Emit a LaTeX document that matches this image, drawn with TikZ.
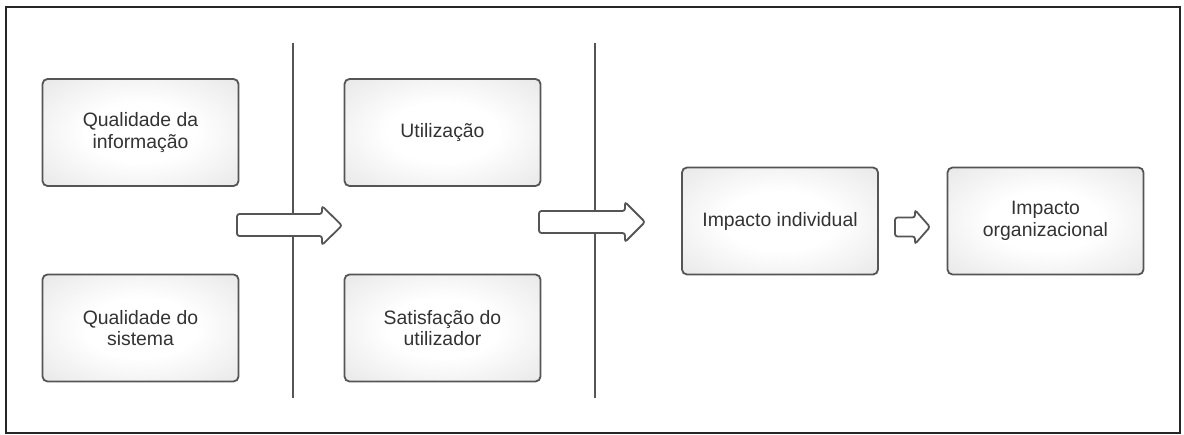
\documentclass[tikz,border=0pt]{standalone}
\usepackage{fontspec}
\setmainfont{Liberation Sans}
\pgfdeclareradialshading{boxshade}{\pgfpoint{0bp}{0bp}}{color(0bp)=(white); color(14bp)=(white); color(50bp)=(black!15); color(72bp)=(black!22)}
\begin{document}
\begin{tikzpicture}[x=1pt,y=-1pt,
  every node/.style={font=\fontsize{19.4}{21.7}\selectfont, text=txtgray},
  box/.style={rounded corners=5pt, draw=edgegray, line width=1.8pt,
    shading=boxshade,
    minimum width=196pt, minimum height=107pt, align=center, inner sep=0pt},
  blockarrow/.style={draw=edgegray, line width=1.8pt, fill=white, rounded corners=2.5pt},
  divider/.style={draw=edgegray, line width=1.8pt}]
\definecolor{edgegray}{HTML}{555555}
\definecolor{txtgray}{HTML}{333333}
\useasboundingbox (0,0) rectangle (1184,435);
\fill[white] (0,0) rectangle (1184,435);
\draw[line width=2pt, black!85] (6,7) rectangle (1180,433);
% dividers
\coordinate (d1t) at (293,43); \coordinate (d1b) at (293,398);
\coordinate (d2t) at (595,43); \coordinate (d2b) at (595,398);
\draw[divider] (d1t) -- (d1b);
\draw[divider] (d2t) -- (d2b);
% boxes
\node[box] (qi) at (140.5,132.5) {Qualidade da\\informação};
\node[box] (qs) at (140.5,328) {Qualidade do\\sistema};
\node[box] (ut) at (442.5,132.5) {Utilização};
\node[box] (su) at (442.5,328) {Satisfação do\\utilizador};
\node[box] (ii) at (780,221) {Impacto individual};
\node[box] (io) at (1045.5,221) {Impacto\\organizacional};
% block arrows
\draw[blockarrow] (322,214) -- (322,206) -- (342,225.5) -- (322,245) -- (322,236) -- (237,236) -- (237,214) -- cycle;
\draw[blockarrow] (625,211) -- (625,202) -- (645,222) -- (625,242) -- (625,233) -- (539,233) -- (539,211) -- cycle;
\draw[blockarrow] (915,217.5) -- (915,210) -- (930,227) -- (915,244) -- (915,236.5) -- (895,236.5) -- (895,217.5) -- cycle;
\end{tikzpicture}
\end{document}
